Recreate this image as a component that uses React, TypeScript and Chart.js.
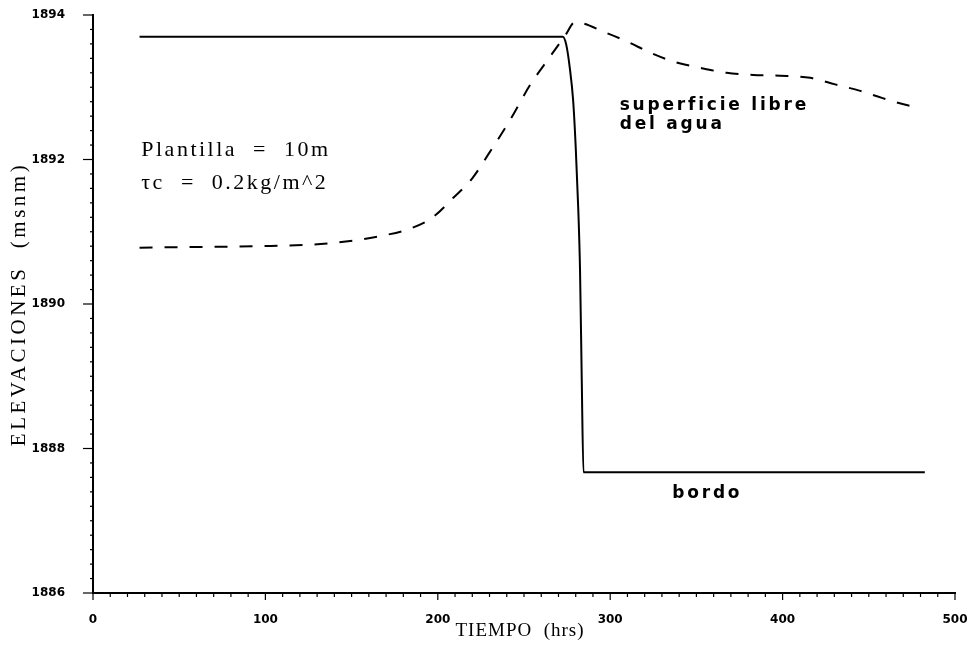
import { useEffect, useRef } from "react";
import { Chart, registerables } from "chart.js";

Chart.register(...registerables);

// Axis ticks
const xTickValues = [0, 100, 200, 300, 400, 500];
const yTickValues = [1886, 1888, 1890, 1892, 1894];

// Solid line: bordo
const bordoX = [27, 272.5, 274.5, 276.5, 278.5, 280, 281.5, 282.5, 283.5, 284.5, 482.5];
const bordoY = [1893.7, 1893.7, 1893.59, 1893.28, 1892.82, 1892.17, 1891.3, 1890.47, 1888.95, 1887.67, 1887.67];

// Dashed line: superficie libre del agua
const aguaX = [27, 62, 97, 132, 155, 166.5, 181, 196.5, 209, 220, 229, 242, 253.5, 265, 274, 279.5, 298, 310, 324, 337.5, 352, 367.5, 383, 398.5, 416, 430.5, 445, 458, 472.5, 477];
const aguaY = [1890.78, 1890.79, 1890.8, 1890.83, 1890.89, 1890.94, 1891.02, 1891.19, 1891.47, 1891.74, 1892.06, 1892.55, 1893.03, 1893.42, 1893.72, 1893.9, 1893.75, 1893.63, 1893.47, 1893.35, 1893.27, 1893.2, 1893.17, 1893.16, 1893.13, 1893.04, 1892.95, 1892.85, 1892.75, 1892.73];

const xTitle = "TIEMPO  (hrs)";
const yTitle = "ELEVACIONES  (msnm)";
const noteLines = ["Plantilla  =  10m", "τc  =  0.2kg/m^2"];
const aguaLabel = ["superficie libre", "del agua"];
const bordoLabel = "bordo";

const decoPlugin = {
  id: "deco",
  afterDraw(chart: any) {
    const { ctx, chartArea: a, scales } = chart;
    const x = scales.x;
    const y = scales.y;
    ctx.save();
    ctx.strokeStyle = "#000";
    ctx.lineWidth = 1.2;
    for (let i = 0; i <= 50; i++) {
      const px = x.getPixelForValue(i * 10);
      const major = i % 10 === 0;
      ctx.beginPath();
      ctx.moveTo(px, a.bottom);
      ctx.lineTo(px, a.bottom + (major ? 7 : 4));
      ctx.stroke();
    }
    for (let i = 0; i <= 40; i++) {
      const py = y.getPixelForValue(1886 + i * 0.2);
      const major = i % 10 === 0;
      ctx.beginPath();
      ctx.moveTo(a.left - (major ? 10 : 3), py);
      ctx.lineTo(a.left, py);
      ctx.stroke();
    }
    ctx.fillStyle = "#000";
    ctx.font = "19px 'Liberation Serif'";
    (ctx as any).letterSpacing = "1px";
    ctx.textAlign = "center";
    ctx.textBaseline = "middle";
    ctx.fillText(xTitle, 520, 631);
    ctx.save();
    ctx.translate(19, (a.top + a.bottom) / 2);
    ctx.rotate(-Math.PI / 2);
    ctx.font = "21px 'Liberation Serif'";
    (ctx as any).letterSpacing = "3.5px";
    ctx.fillText(yTitle, 0, 0);
    ctx.restore();
    ctx.textAlign = "left";
    ctx.font = "22px 'Liberation Serif'";
    (ctx as any).letterSpacing = "2.5px";
    ctx.fillText(noteLines[0], x.getPixelForValue(28), y.getPixelForValue(1892.13));
    ctx.fillText(noteLines[1], x.getPixelForValue(28), y.getPixelForValue(1891.67));
    ctx.font = "bold 17px 'DejaVu Sans'";
    (ctx as any).letterSpacing = "2.8px";
    ctx.fillText(aguaLabel[0], x.getPixelForValue(305.5), y.getPixelForValue(1892.75));
    ctx.fillText(aguaLabel[1], x.getPixelForValue(305.5), y.getPixelForValue(1892.49));
    ctx.fillText(bordoLabel, x.getPixelForValue(336), y.getPixelForValue(1887.38));
    ctx.restore();
  },
};

export default function App() {
  const ref = useRef<HTMLCanvasElement | null>(null);
  useEffect(() => {
    document.body.style.margin = "0";
    const canvas = ref.current!;
    const chart = new Chart(canvas, {
      type: "line",
      data: {
        datasets: [
          {
            label: "bordo",
            data: bordoX.map((v, i) => ({ x: v, y: bordoY[i] })),
            borderColor: "#000",
            borderWidth: 2,
            pointRadius: 0,
            fill: false,
            cubicInterpolationMode: "monotone",
          },
          {
            label: "superficie libre del agua",
            data: aguaX.map((v, i) => ({ x: v, y: aguaY[i] })),
            borderColor: "#000",
            borderWidth: 2,
            borderDash: [13, 12],
            pointRadius: 0,
            fill: false,
            cubicInterpolationMode: "monotone",
          },
        ],
      },
      options: {
        animation: false,
        responsive: false,
        devicePixelRatio: 1,
        layout: { padding: { left: 0, top: 15, right: 21, bottom: 0 } },
        plugins: { legend: { display: false }, tooltip: { enabled: false } },
        scales: {
          x: {
            type: "linear",
            min: 0,
            max: 500,
            afterFit: (s: any) => { s.height = 58; s.paddingLeft = 0; s.paddingRight = 0; },
            afterBuildTicks: (s: any) => { s.ticks = xTickValues.map((v) => ({ value: v })); },
            grid: { display: false },
            border: { display: true, color: "#000", width: 2 },
            ticks: { color: "#000", font: { family: "DejaVu Sans", size: 12, weight: "bold" }, padding: 12, maxRotation: 0, callback: (v: any) => String(v) },
          },
          y: {
            type: "linear",
            min: 1886,
            max: 1894,
            afterFit: (s: any) => { s.width = 93; s.paddingTop = 0; s.paddingBottom = 0; },
            afterBuildTicks: (s: any) => { s.ticks = yTickValues.map((v) => ({ value: v })); },
            grid: { display: false },
            border: { display: true, color: "#000", width: 2 },
            ticks: { color: "#000", font: { family: "DejaVu Sans", size: 12, weight: "bold" }, padding: 20, callback: (v: any) => String(v) },
          },
        },
      },
      plugins: [decoPlugin],
    } as any);
    return () => chart.destroy();
  }, []);
  return (
    <div style={{ width: 976, height: 651, background: "#fff" }}>
      <canvas ref={ref} width={976} height={651} style={{ display: "block" }} />
    </div>
  );
}
